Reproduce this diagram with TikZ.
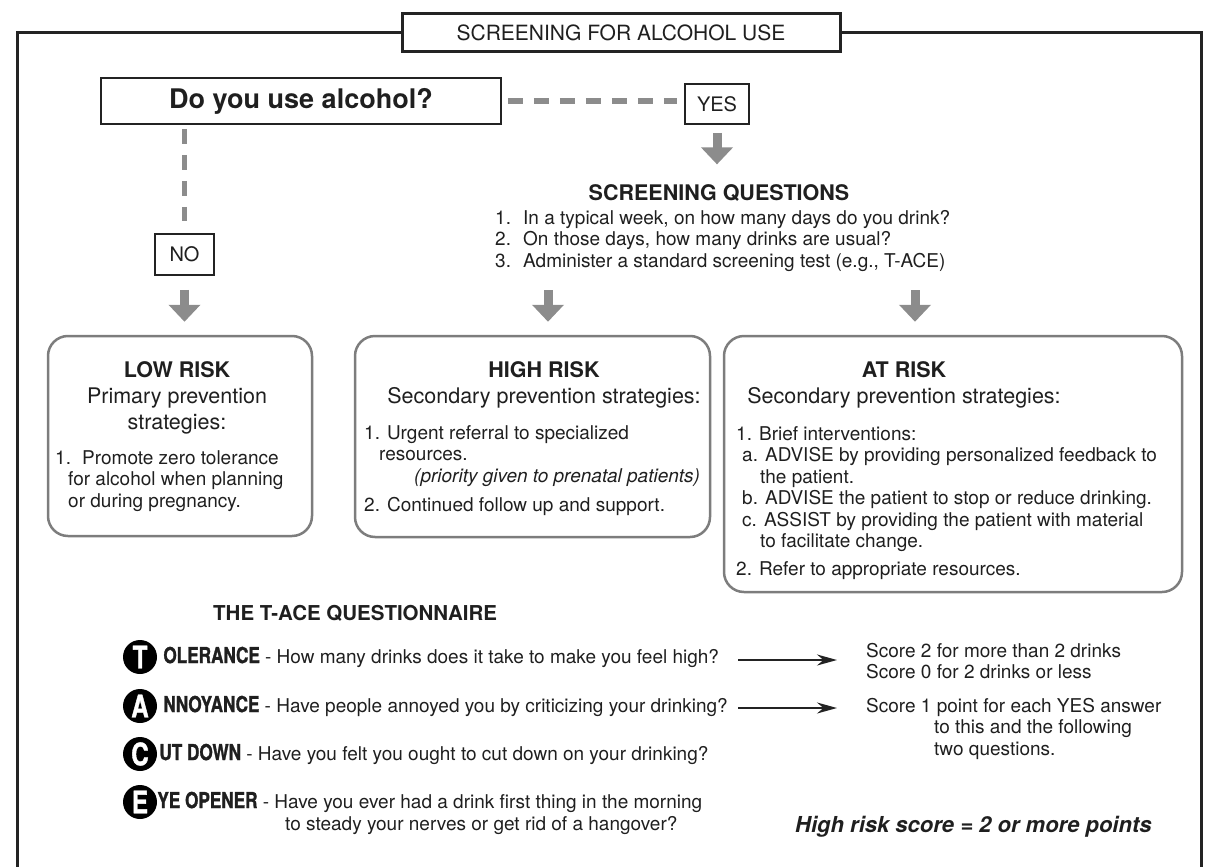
\documentclass[tikz,border=0pt]{standalone}
\usepackage{fontspec}
\setmainfont{TeX Gyre Heros}
\newfontfamily\tacefont[FakeStretch=0.78,BoldFeatures={FakeBold=1.2}]{TeX Gyre Heros}
\usetikzlibrary{positioning,arrows.meta,calc}
\definecolor{myarrow}{RGB}{140,140,140}
\definecolor{myframe}{RGB}{35,35,35}
\definecolor{myborder}{RGB}{125,125,125}
\newcommand{\bodysize}{\fontsize{19}{21.5}\selectfont}
\newcommand{\headsize}{\fontsize{21.5}{26}\selectfont}

\begin{document}
\begin{tikzpicture}[x=1pt,y=-1pt,
    every node/.style={inner sep=0pt,text=black!88},
    titlebox/.style={draw=myframe,line width=3pt,minimum width=438pt,minimum height=38pt,font=\fontsize{21}{24}\selectfont},
    askbox/.style={draw=myframe,line width=1.5pt,minimum width=400pt,minimum height=46pt,font=\bfseries\fontsize{27}{30}\selectfont},
    answerbox/.style={draw=myframe,line width=1.5pt,minimum height=40pt,font=\fontsize{20}{24}\selectfont},
    riskbox/.style={draw=myborder,line width=2.5pt,rounded corners=20pt},
    headtext/.style={align=center,anchor=north,font=\headsize},
    listtext/.style={align=left,anchor=north west,font=\bodysize},
    rowtext/.style={align=left,font=\bodysize},
    letter/.style={circle,fill=black,minimum size=34pt,text=white,font=\tacefont\bfseries\fontsize{31}{31}\selectfont},
    dashline/.style={draw=myarrow,line width=5.5pt,dash pattern=on 15pt off 11pt},
    bigarrow/.style={draw=myarrow,line width=9pt,-{Triangle[width=31pt,length=17pt]}},
    thinarrow/.style={draw=myframe,line width=2pt,-{Stealth[length=20pt,width=11pt]}}
  ]
  \useasboundingbox (0,0) rectangle (1212,867);

  % the frame and its title
  \node[titlebox] (title) at (621,33) {SCREENING FOR ALCOHOL USE};
  \coordinate (framesw) at (17,867);
  \coordinate (framese) at (1201,867);
  \draw[myframe,line width=3pt] (title.west) -| (framesw);
  \draw[myframe,line width=3pt] (title.east) -| (framese);

  % the question and its answers
  \node[askbox] (ask) at (301,101) {Do you use alcohol?};
  \node[answerbox,minimum width=64pt] (yes) at (717,104) {YES};
  \node[answerbox,minimum width=59pt,minimum height=41pt] (no) at (184.5,254.5) {NO};
  \draw[dashline,shorten <=6pt,shorten >=7pt] (ask.east) -- (ask.east -| yes.west);
  \draw[dashline,shorten <=4pt,shorten >=12pt] (ask.south -| no.north) -- (no.north);

  % screening questions
  \node[font=\headsize\bfseries] (sqhead) at (719,193) {SCREENING QUESTIONS};
  \node[listtext] (sqlist) at (495,210) {%
    \makebox[28pt][l]{1.}In a typical week, on how many days do you drink?\\
    \makebox[28pt][l]{2.}On those days, how many drinks are usual?\\
    \makebox[28pt][l]{3.}Administer a standard screening test (e.g., T-ACE)};
  \draw[bigarrow,shorten <=8pt,shorten >=20pt] (yes.south) -- (yes.south |- sqhead.north);

  % the three risk boxes
  \node[riskbox,minimum width=264pt,minimum height=200pt] (lowrisk) at (180,436) {};
  \node[riskbox,minimum width=355pt,minimum height=201pt] (highrisk) at (532.5,436.5) {};
  \node[riskbox,minimum width=458pt,minimum height=256pt] (atrisk) at (953,464) {};

  \coordinate (hightop) at (548,290);
  \coordinate (attop) at (915,290);
  \draw[bigarrow,shorten <=14pt,shorten >=13pt] (no.south) -- (no.south |- lowrisk.north);
  \foreach \t/\b in {hightop/highrisk, attop/atrisk}
    \draw[bigarrow,shorten >=13pt] (\t) -- (\t |- \b.north);

  % low risk
  \node[headtext] (lowhead) at (177,361) {\textbf{LOW RISK}\\Primary prevention\\strategies:};
  \node[listtext] (lowlist) at (55,450) {%
    \makebox[27pt][l]{1.}Promote zero tolerance\\
    \hspace*{13pt}for alcohol when planning\\
    \hspace*{13pt}or during pregnancy.};

  % high risk
  \node[headtext] (highhead) at (544,361) {\textbf{HIGH RISK}\\Secondary prevention strategies:};
  \node[listtext] (highlist) at (364,425) {%
    1. Urgent referral to specialized\\
    \hspace*{15pt}resources.\\
    \hspace*{50pt}\textit{(priority given to prenatal patients)}\\[7.5pt]
    2. Continued follow up and support.};

  % at risk
  \node[headtext] (athead) at (904,361) {\textbf{AT RISK}\\Secondary prevention strategies:};
  \node[listtext] (atlist) at (736,426) {%
    1. Brief interventions:\\
    \hspace*{6pt}a. ADVISE by providing personalized feedback to\\
    \hspace*{24pt}the patient.\\
    \hspace*{6pt}b. ADVISE the patient to stop or reduce drinking.\\
    \hspace*{6pt}c. ASSIST by providing the patient with material\\
    \hspace*{24pt}to facilitate change.\\[6.5pt]
    2. Refer to appropriate resources.};

  % the T-ACE questionnaire
  \node[font=\fontsize{20.5}{24}\selectfont\bfseries,anchor=west] (tacehead) at (213,613) {THE T-ACE QUESTIONNAIRE};
  \foreach \l/\y in {T/657, A/706, C/754, E/802}
    \node[letter] (c\l) at (140,\y) {\l};

  \node[rowtext,right=6pt of cT] (tol) {{\tacefont\bfseries\fontsize{22}{22}\selectfont OLERANCE} - How many drinks does it take to make you feel high?};
  \node[rowtext,right=6pt of cA] (ann) {{\tacefont\bfseries\fontsize{22}{22}\selectfont NNOYANCE} - Have people annoyed you by criticizing your drinking?};
  \node[rowtext,right=2pt of cC] (cut) {{\tacefont\bfseries\fontsize{22}{22}\selectfont UT DOWN} - Have you felt you ought to cut down on your drinking?};
  \node[rowtext,right=0pt of cE] (eye) {{\tacefont\bfseries\fontsize{22}{22}\selectfont YE OPENER} - Have you ever had a drink first thing in the morning};
  \node[rowtext,anchor=west] (eyemore) at (285,826) {to steady your nerves or get rid of a hangover?};

  % scores
  \node[rowtext,anchor=west] (score2) at (866,661) {Score 2 for more than 2 drinks\\Score 0 for 2 drinks or less};
  \node[rowtext,anchor=north west] (score1) at (866,698) {Score 1 point for each YES answer\\
    \hspace*{68pt}to this and the following\\
    \hspace*{68pt}two questions.};
  \coordinate (tolarrow) at (738,660);
  \coordinate (annarrow) at (738,708);
  \draw[thinarrow,shorten >=29pt] (tolarrow) -- (tolarrow -| score2.west);
  \draw[thinarrow,shorten >=29pt] (annarrow) -- (annarrow -| score1.west);

  \node[font=\bfseries\itshape\fontsize{22}{26}\selectfont,anchor=west] (hirisk) at (795,827) {High risk score = 2 or more points};
\end{tikzpicture}
\end{document}
